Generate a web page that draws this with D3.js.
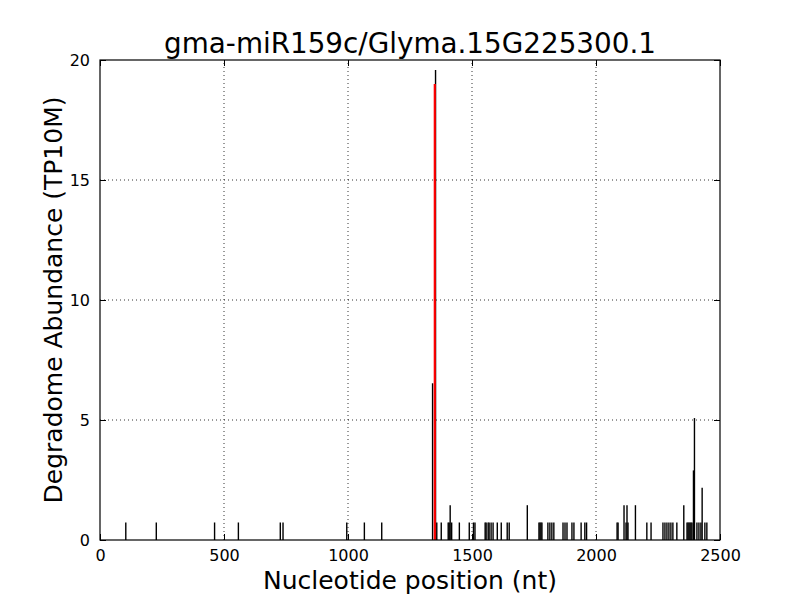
<!DOCTYPE html>
<html>
<head>
<meta charset="utf-8">
<script src="https://cdn.jsdelivr.net/npm/d3@7"></script>
<style>
  body { margin: 0; background: #fff; }
  svg { font-family: "DejaVu Sans", sans-serif; }
</style>
</head>
<body>
<div id="chart"></div>
<script>
// Degradome tags (nt position, TP10M abundance)
const positions = [
  104, 227, 462, 558, 727, 738, 995, 1066, 1136,
  1341, 1353, 1358, 1376, 1404, 1408, 1412, 1418, 1449, 1489, 1506, 1512,
  1553, 1557, 1565, 1569, 1577, 1585, 1602, 1618, 1642, 1650, 1723,
  1770, 1774, 1778, 1782, 1806, 1814, 1822, 1830, 1867, 1875, 1883,
  1903, 1911, 1940, 1955, 1962, 2085, 2089, 2113, 2121, 2125, 2129, 2159,
  2205, 2222, 2270, 2278, 2286, 2294, 2302, 2310, 2326, 2354,
  2367, 2371, 2375, 2379, 2383, 2387, 2393, 2397, 2407, 2415, 2423, 2428, 2439, 2447
];
const abundances = [
  0.73, 0.73, 0.73, 0.73, 0.73, 0.73, 0.73, 0.73, 0.73,
  6.53, 19.58, 0.73, 0.73, 0.73, 0.73, 1.45, 0.73, 0.73, 0.73, 0.73, 0.73,
  0.73, 0.73, 0.73, 0.73, 0.73, 0.73, 0.73, 0.73, 0.73, 0.73, 1.45,
  0.73, 0.73, 0.73, 0.73, 0.73, 0.73, 0.73, 0.73, 0.73, 0.73, 0.73,
  0.73, 0.73, 0.73, 0.73, 0.73, 0.73, 0.73, 1.45, 0.73, 1.45, 0.73, 1.45,
  0.73, 0.73, 0.73, 0.73, 0.73, 0.73, 0.73, 0.73, 0.73, 1.45,
  0.73, 0.73, 0.73, 0.73, 0.73, 0.73, 2.9, 5.08, 0.73, 0.73, 0.73, 2.18, 0.73, 0.73
];
// predicted miRNA cleavage site
const sitePosition = [1350];
const siteValue = [19];

const xTicks = [0, 500, 1000, 1500, 2000, 2500];
const yTicks = [0, 5, 10, 15, 20];

const width = 800, height = 600;
const margin = { top: 60, right: 80, bottom: 60, left: 100 };

const svg = d3.select("#chart").append("svg")
  .attr("width", width).attr("height", height);

const x = d3.scaleLinear().domain([0, 2500]).range([margin.left, width - margin.right]);
const y = d3.scaleLinear().domain([0, 20]).range([height - margin.bottom, margin.top]);

// grid (dotted)
svg.append("g").selectAll("line").data(xTicks.slice(1, -1)).enter().append("line")
  .attr("x1", d => x(d)).attr("x2", d => x(d))
  .attr("y1", y(0)).attr("y2", y(20))
  .attr("stroke", "#000").attr("stroke-width", 0.8).attr("stroke-dasharray", "1,3");
svg.append("g").selectAll("line").data(yTicks.slice(1, -1)).enter().append("line")
  .attr("x1", x(0)).attr("x2", x(2500))
  .attr("y1", d => y(d)).attr("y2", d => y(d))
  .attr("stroke", "#000").attr("stroke-width", 0.8).attr("stroke-dasharray", "1,3");

// bars
const data = positions.map((p, i) => ({ pos: p, val: abundances[i] }));
svg.append("g").selectAll("line").data(data).enter().append("line")
  .attr("x1", d => x(d.pos)).attr("x2", d => x(d.pos))
  .attr("y1", y(0)).attr("y2", d => y(d.val))
  .attr("stroke", "#000").attr("stroke-width", 1.4);

// red target marker
svg.append("g").selectAll("line").data(sitePosition).enter().append("line")
  .attr("x1", d => x(d)).attr("x2", d => x(d))
  .attr("y1", y(0)).attr("y2", (d, i) => y(siteValue[i]))
  .attr("stroke", "#ff0000").attr("stroke-width", 2.2);

// axes (ticks inward on all sides)
const tick = 6;
const xb = svg.append("g").attr("transform", `translate(0,${y(0)})`)
  .call(d3.axisBottom(x).tickValues(xTicks).tickSize(-tick).tickPadding(10).tickFormat(d3.format("d")));
const xt = svg.append("g").attr("transform", `translate(0,${y(20)})`)
  .call(d3.axisTop(x).tickValues(xTicks).tickSize(-tick).tickFormat(""));
const yl = svg.append("g").attr("transform", `translate(${x(0)},0)`)
  .call(d3.axisLeft(y).tickValues(yTicks).tickSize(-tick).tickPadding(10));
const yr = svg.append("g").attr("transform", `translate(${x(2500)},0)`)
  .call(d3.axisRight(y).tickValues(yTicks).tickSize(-tick).tickFormat(""));

[xb, xt, yl, yr].forEach(a => {
  a.select(".domain").remove();
  a.selectAll(".tick line").attr("stroke", "#000").attr("stroke-width", 1);
  a.selectAll(".tick text").attr("fill", "#000")
    .style("font-family", "DejaVu Sans").style("font-size", "16px");
});

// frame
svg.append("rect")
  .attr("x", x(0)).attr("y", y(20))
  .attr("width", x(2500) - x(0)).attr("height", y(0) - y(20))
  .attr("fill", "none").attr("stroke", "#000").attr("stroke-width", 1.2);

// labels
svg.append("text")
  .attr("x", (x(0) + x(2500)) / 2).attr("y", 53)
  .attr("text-anchor", "middle")
  .style("font-size", "27.8px")
  .text("gma-miR159c/Glyma.15G225300.1");

svg.append("text")
  .attr("x", (x(0) + x(2500)) / 2).attr("y", 589)
  .attr("text-anchor", "middle")
  .style("font-size", "25px")
  .text("Nucleotide position (nt)");

svg.append("text")
  .attr("transform", `translate(62,${(y(0) + y(20)) / 2}) rotate(-90)`)
  .attr("text-anchor", "middle")
  .style("font-size", "25px")
  .text("Degradome Abundance (TP10M)");
</script>
</body>
</html>
